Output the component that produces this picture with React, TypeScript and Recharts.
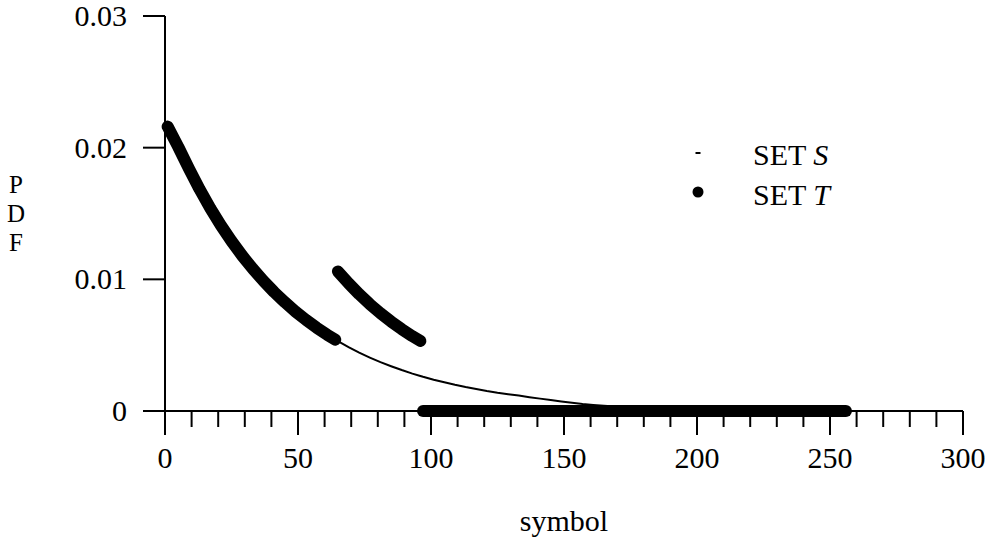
import React from 'react';
import { ComposedChart, Line, XAxis, YAxis, Legend } from 'recharts';

const symbols = [
  1, 5, 9, 13, 17, 21, 25, 29, 33, 37, 41, 45, 49, 53, 57, 61, 64,
  65, 69, 73, 77, 81, 85, 89, 93, 96,
  97, 101, 105, 109, 113, 117, 121, 125, 129, 133, 137, 141, 145, 149, 153, 157, 161, 165, 169, 173,
  177, 181, 185, 189, 193, 197, 201, 205, 209, 213, 217, 221, 225, 229, 233, 237, 241, 245, 249, 253, 256,
];

const setS = [
  0.0216, 0.02005, 0.01841, 0.01685, 0.01541, 0.0141, 0.0129, 0.0118, 0.0108, 0.00988, 0.00904, 0.00827, 0.00756, 0.00692, 0.00633, 0.00579, 0.00542,
  0.0053, 0.00485, 0.00443, 0.00406, 0.00371, 0.0034, 0.00311, 0.00284, 0.00266,
  0.0026, 0.00238, 0.00218, 0.00199, 0.00182, 0.00167, 0.00152, 0.00139, 0.00128, 0.00117, 0.00105, 0.00094, 0.00083, 0.00072, 0.00062, 0.00053, 0.00046, 0.0004, 0.00035, 0.00031,
  0.00028, 0.00025, 0.00022, 0.0002, 0.00018, 0.00016, 0.00014, 0.00013, 0.00012, 0.00011, 0.0001, 0.00009, 0.00008, 0.00007, 0.00006, 0.00006, 0.00005, 0.00005, 0.00004, 0.00004, 0.00004,
];

const setT = [
  0.0216, 0.02005, 0.01841, 0.01685, 0.01541, 0.0141, 0.0129, 0.0118, 0.0108, 0.00988, 0.00904, 0.00827, 0.00756, 0.00692, 0.00633, 0.00579, 0.00542,
  0.0106, 0.0097, 0.00887, 0.00811, 0.00742, 0.00679, 0.00621, 0.00568, 0.00532,
  0, 0, 0, 0, 0, 0, 0, 0, 0, 0, 0, 0, 0, 0, 0, 0, 0, 0, 0, 0,
  0, 0, 0, 0, 0, 0, 0, 0, 0, 0, 0, 0, 0, 0, 0, 0, 0, 0, 0, 0, 0,
];

// segments of SET T (symbol ranges)
const tSegments: [number, number][] = [[1, 64], [65, 96], [97, 256]];

const xTicks = [0, 10, 20, 30, 40, 50, 60, 70, 80, 90, 100, 110, 120, 130, 140, 150, 160, 170, 180, 190, 200, 210, 220, 230, 240, 250, 260, 270, 280, 290, 300];
const yTicks = [0, 0.01, 0.02, 0.03];
const yTickLabels = ['0', '0.01', '0.02', '0.03'];
const yAxisLetters = ['P', 'D', 'F'];

const data = symbols.map((sym, i) => {
  const row: Record<string, number | undefined> = { symbol: sym, s: setS[i] };
  tSegments.forEach(([a, b], k) => {
    row['t' + k] = sym >= a && sym <= b ? setT[i] : undefined;
  });
  return row;
});

const FONT = '"Liberation Serif", "DejaVu Serif", serif';
const FS = 30;

const XTick = (props: any) => {
  const { x, y, payload } = props;
  const v = payload.value;
  const major = v % 50 === 0;
  return (
    <g>
      <line x1={x} y1={y} x2={x} y2={y + (major ? 24 : 16)} stroke="#000" strokeWidth={2} />
      {major && (
        <text x={x} y={y + 57} textAnchor="middle" fontSize={FS} fontFamily={FONT} fill="#000">
          {v}
        </text>
      )}
    </g>
  );
};

const YTick = (props: any) => {
  const { x, y, payload } = props;
  const idx = yTicks.indexOf(payload.value);
  return (
    <g>
      <line x1={x - 22} y1={y} x2={x} y2={y} stroke="#000" strokeWidth={2} />
      <text x={x - 38} y={y + 10} textAnchor="end" fontSize={FS} fontFamily={FONT} fill="#000">
        {yTickLabels[idx]}
      </text>
    </g>
  );
};

const LegendContent = () => (
  <svg width={200} height={80} style={{ display: 'block' }}>
    <line x1={15.5} y1={18} x2={20.5} y2={18} stroke="#000" strokeWidth={2} />
    <text x={73} y={30} fontSize={FS} fontFamily={FONT} fill="#000">
      SET <tspan fontStyle="italic">S</tspan>
    </text>
    <circle cx={18} cy={57} r={5.5} fill="#000" />
    <text x={73} y={70} fontSize={FS} fontFamily={FONT} fill="#000">
      SET <tspan fontStyle="italic">T</tspan>
    </text>
  </svg>
);

export default function App() {
  return (
    <div style={{ position: 'absolute', left: 0, top: 0, background: '#fff' }}>
      <ComposedChart
        width={988}
        height={552}
        data={data}
        margin={{ top: 16, right: 25, bottom: 111, left: 105 }}
      >
        <XAxis
          dataKey="symbol"
          type="number"
          domain={[0, 300]}
          ticks={xTicks}
          interval={0}
          height={30}
          tickLine={false}
          tickSize={0}
          tickMargin={0}
          tick={<XTick />}
          axisLine={{ stroke: '#000', strokeWidth: 2 }}
          label={{
            content: () => (
              <text x={564} y={531} textAnchor="middle" fontSize={FS} fontFamily={FONT} fill="#000">
                symbol
              </text>
            ),
          }}
        />
        <YAxis
          type="number"
          domain={[0, 0.03]}
          ticks={yTicks}
          interval={0}
          width={60}
          tickLine={false}
          tickSize={0}
          tickMargin={0}
          tick={<YTick />}
          axisLine={{ stroke: '#000', strokeWidth: 2 }}
          label={{
            content: () => (
              <g>
                {yAxisLetters.map((ch, i) => (
                  <text key={ch} x={16} y={193 + i * 29} textAnchor="middle" fontSize={25} fontFamily={FONT} fill="#000">
                    {ch}
                  </text>
                ))}
              </g>
            ),
          }}
        />
        <Legend
          layout="vertical"
          align="center"
          verticalAlign="middle"
          wrapperStyle={{ left: 680, top: 135, width: 200, height: 80 }}
          content={<LegendContent />}
        />
        <Line
          dataKey="s"
          name="SET S"
          type="linear"
          stroke="#000"
          strokeWidth={2}
          dot={false}
          isAnimationActive={false}
        />
        {tSegments.map((_, k) => (
          <Line
            key={k}
            dataKey={'t' + k}
            name="SET T"
            type="linear"
            stroke="#000"
            strokeWidth={12}
            strokeLinecap="round"
            strokeLinejoin="round"
            dot={false}
            connectNulls={false}
            isAnimationActive={false}
          />
        ))}
      </ComposedChart>
    </div>
  );
}
